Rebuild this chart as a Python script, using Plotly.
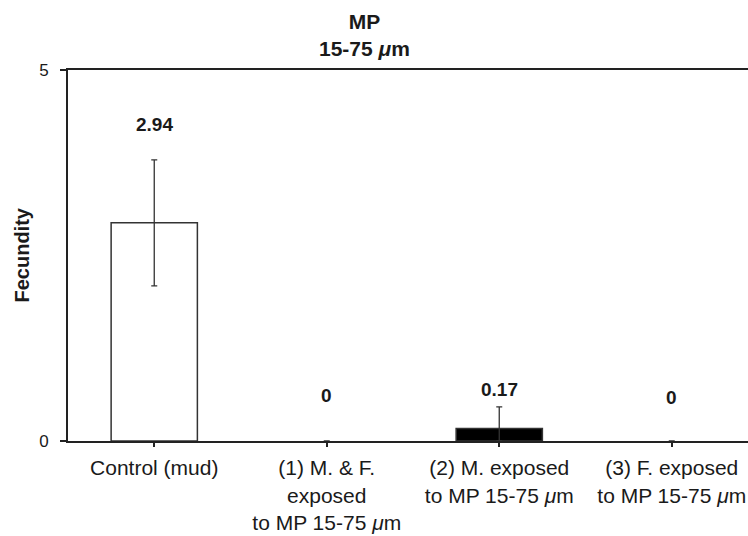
import plotly.graph_objects as go

categories = [
    "Control (mud)",
    "(1) M. & F.<br>exposed<br>to MP 15-75 <i>μ</i>m",
    "(2) M. exposed<br>to MP 15-75 <i>μ</i>m",
    "(3) F. exposed<br>to MP 15-75 <i>μ</i>m",
]
fecundity = [2.94, 0, 0.17, 0]
errors = [0.85, 0, 0.29, 0]
label_y = [4.27, 0.62, 0.69, 0.58]
bar_fill = ["white", "white", "black", "white"]
y_ticks = [0, 5]

positions = list(range(len(categories)))
err_minus = [min(e, v) for e, v in zip(errors, fecundity)]
outline_w = [1.5 if v > 0 else 0 for v in fecundity]

FONT = "Liberation Sans, Arial, sans-serif"
INK = "#1a1a1a"

W, H = 748, 536
L, T, B = 68, 70, 95
PW = W - L
PH = H - T - B

fig = go.Figure()
fig.add_trace(go.Bar(
    x=positions,
    y=fecundity,
    width=0.5,
    marker=dict(color=bar_fill, line=dict(color="#333333", width=outline_w)),
    error_y=dict(type="data", array=errors, arrayminus=err_minus,
                 color="#333333", thickness=1.3, width=3, visible=True),
    showlegend=False,
    hoverinfo="skip",
))

for xi, v, ly in zip(positions, fecundity, label_y):
    fig.add_annotation(x=xi, y=ly, xref="x", yref="y", text=f"<b>{v:g}</b>",
                       showarrow=False, font=dict(family=FONT, size=19, color=INK),
                       xanchor="center", yanchor="middle")

# Title
fig.add_annotation(x=(364 - L) / PW, y=1 + (T - 35) / PH, xref="paper", yref="paper",
                   text="<b>MP</b><br><b>15-75 <i>μ</i>m</b>",
                   showarrow=False, font=dict(family=FONT, size=21, color=INK),
                   xanchor="center", yanchor="middle")

# Y-axis title
fig.add_annotation(x=(21 - L) / PW, y=0.5, xref="paper", yref="paper",
                   text="<b>Fecundity</b>", textangle=-90, showarrow=False,
                   font=dict(family=FONT, size=20, color=INK),
                   xanchor="center", yanchor="middle")

fig.update_layout(
    width=W, height=H,
    margin=dict(l=L, r=0, t=T, b=B, pad=0),
    paper_bgcolor="white", plot_bgcolor="white",
    font=dict(family=FONT, color=INK),
    bargap=0.5,
)
fig.update_xaxes(
    range=[-0.5, 3.442],
    tickvals=positions, ticktext=categories,
    tickfont=dict(family=FONT, size=21, color=INK),
    ticks="outside", ticklen=4, tickwidth=1.5, tickcolor="#222",
    ticklabelstandoff=3,
    showline=True, linecolor="#222", linewidth=2, mirror=True,
    showgrid=False, zeroline=False,
)
fig.update_yaxes(
    range=[0, 5],
    tickvals=y_ticks,
    tickfont=dict(family=FONT, size=17, color=INK),
    ticks="outside", ticklen=6, tickwidth=1.5, tickcolor="#222",
    ticklabelstandoff=8,
    showline=True, linecolor="#222", linewidth=2, mirror=False,
    showgrid=False, zeroline=False,
)

# let the figure fill the window exactly (no default page margin)
fig.write_html(
    "out.html",
    config={"displayModeBar": False},
    post_script="document.body.style.margin='0';document.body.style.overflow='hidden';",
)
